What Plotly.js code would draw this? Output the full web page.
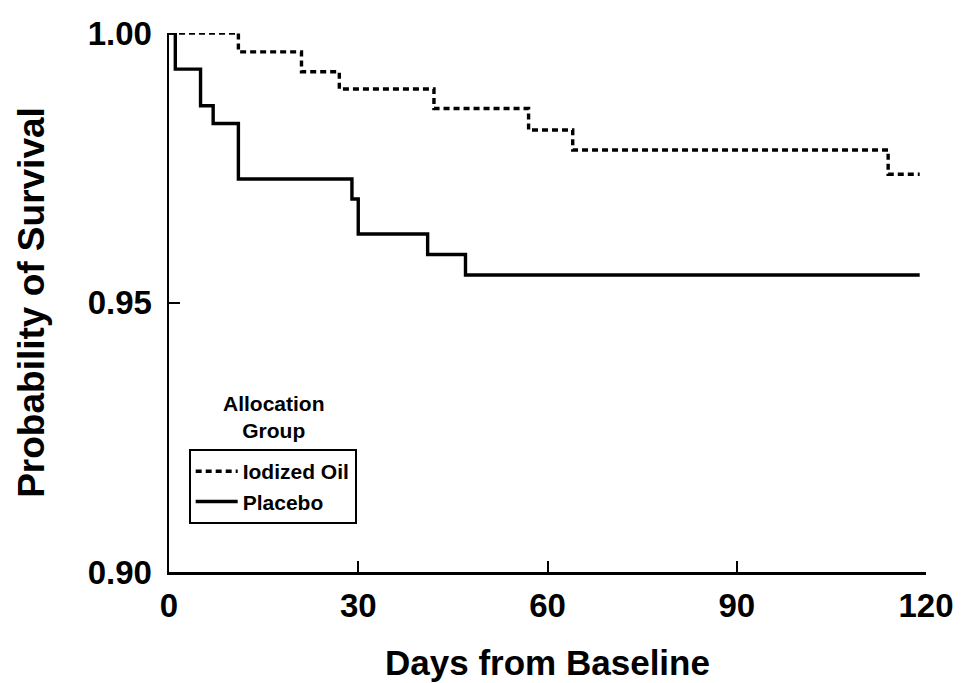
<!DOCTYPE html>
<html>
<head>
<meta charset="utf-8">
<script src="https://cdn.plot.ly/plotly-3.0.1.min.js"></script>
<style>html,body{margin:0;padding:0;background:#fff;}#chart{width:962px;height:683px;}</style>
</head>
<body>
<div id="chart"></div>
<script>
// Kaplan-Meier step data
const oilDays = [0, 11, 21, 27, 42, 57, 64, 114, 119];
const oilSurv = [1.0, 0.9965, 0.9928, 0.9896, 0.9860, 0.9820, 0.9783, 0.9738, 0.9738];
const placeboDays = [0, 1, 5, 7, 11, 29, 30, 41, 47, 119];
const placeboSurv = [1.0, 0.9933, 0.9865, 0.9832, 0.9729, 0.9692, 0.9627, 0.9589, 0.9551, 0.9551];
const seriesNames = ["Iodized Oil", "Placebo"];
const xTicks = [0, 30, 60, 90, 120];
const yTicks = [0.90, 0.95, 1.00];
const yTickText = ["0.90", "0.95", "1.00"];

const FONT = "Liberation Sans, Arial, Helvetica, sans-serif";

const traces = [
  {
    x: oilDays, y: oilSurv, name: seriesNames[0], type: "scatter", mode: "lines",
    line: {shape: "hv", color: "#000", width: 3.4, dash: "6px,4px"},
    cliponaxis: false
  },
  {
    x: placeboDays, y: placeboSurv, name: seriesNames[1], type: "scatter", mode: "lines",
    line: {shape: "hv", color: "#000", width: 3.4},
    cliponaxis: false
  }
];

const layout = {
  width: 962, height: 683,
  margin: {l: 169, r: 36, t: 33, b: 111},
  paper_bgcolor: "#fff", plot_bgcolor: "#fff",
  showlegend: true,
  xaxis: {
    range: [0, 120], tickvals: xTicks, ticktext: xTicks.map(String),
    showgrid: false, zeroline: false, showline: true, linecolor: "#000", linewidth: 2.5,
    ticks: "inside", ticklen: 11, tickwidth: 2, tickcolor: "#000",
    ticklabelstandoff: 3,
    tickfont: {family: FONT, size: 33, color: "#000", weight: "bold"},
    title: {text: "Days from Baseline", standoff: 28,
            font: {family: FONT, size: 35, color: "#000", weight: "bold"}},
    automargin: false
  },
  yaxis: {
    range: [0.90, 1.00], tickvals: yTicks, ticktext: yTickText,
    showgrid: false, zeroline: false, showline: true, linecolor: "#000", linewidth: 2.5,
    ticks: "inside", ticklen: 11, tickwidth: 2, tickcolor: "#000",
    ticklabelstandoff: 8,
    tickfont: {family: FONT, size: 33, color: "#000", weight: "bold"},
    title: {text: "Probability of Survival", standoff: 32,
            font: {family: FONT, size: 37, color: "#000", weight: "bold"}},
    automargin: false
  },
  legend: {
    x: 0.026, y: 0.228, xanchor: "left", yanchor: "top",
    bgcolor: "#fff", bordercolor: "#000", borderwidth: 2,
    font: {family: FONT, size: 21, color: "#000", weight: "bold"},
    itemwidth: 42
  },
  annotations: [{
    xref: "paper", yref: "paper", x: 0.1387, y: 0.2876,
    xanchor: "center", yanchor: "middle", showarrow: false,
    text: "Allocation<br>Group", align: "center",
    font: {family: FONT, size: 21, color: "#000", weight: "bold"}
  }]
};

Plotly.newPlot("chart", traces, layout, {displayModeBar: false, staticPlot: true});
</script>
</body>
</html>
